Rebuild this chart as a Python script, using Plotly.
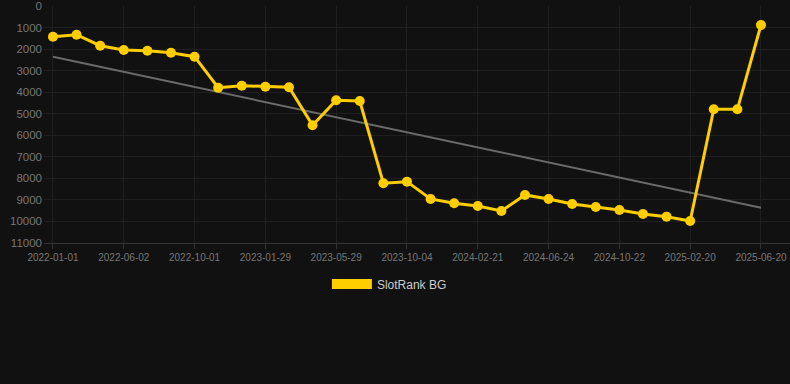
import plotly.graph_objects as go

dates = [
    "2022-01-01", "2022-02-20", "2022-04-10", "2022-06-02", "2022-07-12", "2022-08-21",
    "2022-10-01", "2022-11-10", "2022-12-20", "2023-01-29", "2023-03-10", "2023-04-19",
    "2023-05-29", "2023-07-10", "2023-08-22", "2023-10-04", "2023-11-20", "2024-01-05",
    "2024-02-21", "2024-04-02", "2024-05-13", "2024-06-24", "2024-08-03", "2024-09-12",
    "2024-10-22", "2024-12-01", "2025-01-10", "2025-02-20", "2025-04-01", "2025-05-11",
    "2025-06-20",
]
rank = [
    1425, 1332, 1842, 2042, 2074, 2167, 2353, 3791, 3698, 3745, 3773, 5536, 4376, 4408,
    8228, 8153, 8956, 9155, 9281, 9513, 8770, 8956, 9188, 9327, 9466, 9652, 9777, 9977,
    4794, 4794, 882,
]
trend_x = [dates[0], dates[-1]]
trend_y = [2360, 9360]
tick_labels = dates[::3]
y_ticks = list(range(0, 11001, 1000))

series_name = "SlotRank BG"
yellow = "#FFCE00"

fig = go.Figure()
fig.add_trace(go.Scatter(
    x=trend_x, y=trend_y, mode="lines",
    line=dict(color="#6a6a6a", width=2), showlegend=False, hoverinfo="skip",
))
fig.add_trace(go.Scatter(
    x=dates, y=rank, mode="lines+markers", name=series_name,
    line=dict(color=yellow, width=3), marker=dict(color=yellow, size=10),
    showlegend=False,
))
# legend entry drawn as a filled rectangle-like thick line
fig.add_trace(go.Scatter(
    x=[None], y=[None], mode="lines", name=series_name,
    line=dict(color=yellow, width=12), showlegend=True,
))

fig.update_layout(
    width=790, height=384,
    margin=dict(l=44, r=0, t=6, b=141),
    paper_bgcolor="#111111", plot_bgcolor="#111111",
    font=dict(family="Liberation Sans, Arial, sans-serif", color="#777777"),
    showlegend=True,
    legend=dict(
        orientation="h", x=0.463, xanchor="center", y=-0.173, yanchor="middle",
        font=dict(size=12, color="#cccccc"), itemwidth=40,
        bgcolor="rgba(0,0,0,0)",
    ),
    xaxis=dict(
        type="category", categoryorder="array", categoryarray=dates,
        range=[-0.38, 31.23],
        tickmode="array", tickvals=tick_labels, ticktext=tick_labels,
        tickangle=0, tickfont=dict(size=10, color="#777777"),
        showgrid=True, gridcolor="#1f1f1f", gridwidth=1,
        showline=True, linecolor="#333333", linewidth=1,
        ticks="outside", ticklen=5, tickcolor="#333333",
        zeroline=False, ticklabeloverflow="allow",
    ),
    yaxis=dict(
        range=[11000, 0], tickmode="array", tickvals=y_ticks,
        ticktext=[str(v) for v in y_ticks],
        tickfont=dict(size=11.5, color="#777777"),
        showgrid=True, gridcolor="#1f1f1f", gridwidth=1,
        zeroline=False, showline=False, ticks="", ticklabelstandoff=1,
        ticklabeloverflow="allow",
    ),
)

fig.write_html(
    "out.html",
    config={"displayModeBar": False},
    post_script="document.body.style.margin='0';document.body.style.background='#111111';",
)
